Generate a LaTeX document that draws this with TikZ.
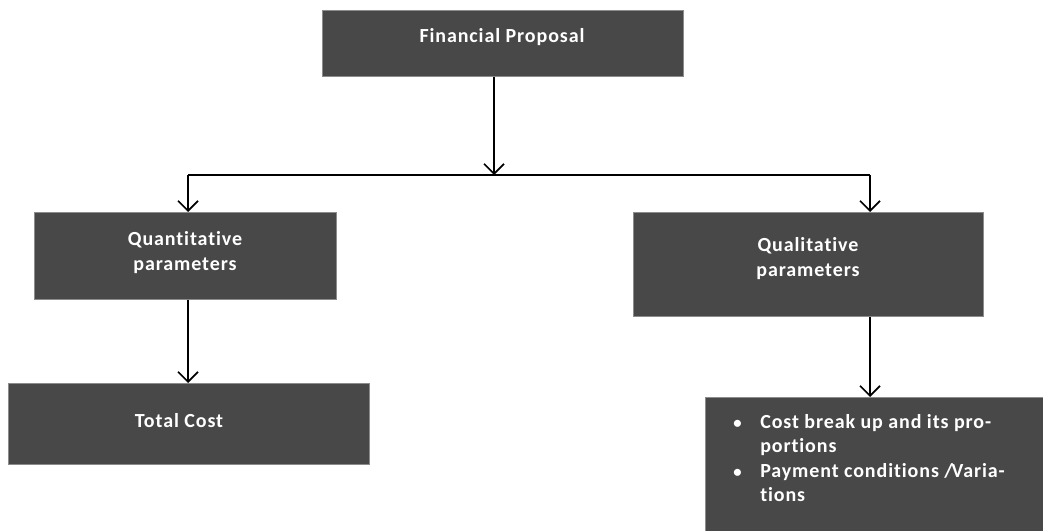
\documentclass[tikz,border=0pt]{standalone}
\usepackage{fontspec}
\setmainfont[Ligatures={NoCommon},LetterSpace=4.5]{Carlito}
\usetikzlibrary{arrows.meta}
\definecolor{boxgray}{HTML}{484848}
\newcommand{\itemdot}{\makebox[20.25pt][l]{\fontsize{12.5}{12.5}\selectfont •}}
\begin{document}
\begin{tikzpicture}[x=0.75pt,y=-0.75pt,
  box/.style={draw=black!45,line width=0.5pt,fill=boxgray,inner sep=0pt,anchor=north west},
  txt/.style={text=white,inner sep=0pt,anchor=base,
    font=\bfseries\fontsize{15}{18.4}\selectfont},
  link/.style={line width=1.5pt,draw=black},
  arr/.style={link,-{Straight Barb[length=7.5pt,width=15pt,line width=1.3pt]}}]
\useasboundingbox (0,0) rectangle (1043,531);
% boxes
\node[box,minimum width=361*0.75pt,minimum height=66*0.75pt] (fp) at (322,10) {};
\node[box,minimum width=302*0.75pt,minimum height=87*0.75pt] (quant) at (34,212) {};
\node[box,minimum width=350*0.75pt,minimum height=104*0.75pt] (qual) at (633,212) {};
\node[box,minimum width=361*0.75pt,minimum height=81*0.75pt] (total) at (8,383) {};
\node[box,minimum width=345*0.75pt,minimum height=140*0.75pt] (detail) at (705,397) {};
% labels
\node[txt] (fpt) at (502,43) {Financial Proposal};
\node[txt] (quantt) at (185,246) {\begin{tabular}[t]{@{}c@{}}Quantitative\\parameters\end{tabular}};
\node[txt] (qualt) at (808,252) {\begin{tabular}[t]{@{}c@{}}Qualitative\\parameters\end{tabular}};
\node[txt] (totalt) at (179,427) {Total Cost};
\node[txt,anchor=base west] (detailt) at (733,428) {\begin{tabular}[t]{@{}l@{}l@{}}
  \itemdot & Cost break up and its pro-\\
  & portions\\
  \itemdot & Payment conditions /\kern-1pt Varia-\\
  & tions\end{tabular}};
% connectors
\coordinate (bus) at (494,175);
\coordinate (busL) at (188,175);
\coordinate (busR) at (870,175);
\draw[arr] (bus |- fp.south) -- (bus);
\draw[link] (busL) -- (busR);
\draw[arr] (busL) -- (busL |- quant.north);
\draw[arr] (busR) -- (busR |- qual.north);
\draw[arr] (busL |- quant.south) -- (busL |- total.north);
\draw[arr] (busR |- qual.south) -- (busR |- detail.north);
\end{tikzpicture}
\end{document}
